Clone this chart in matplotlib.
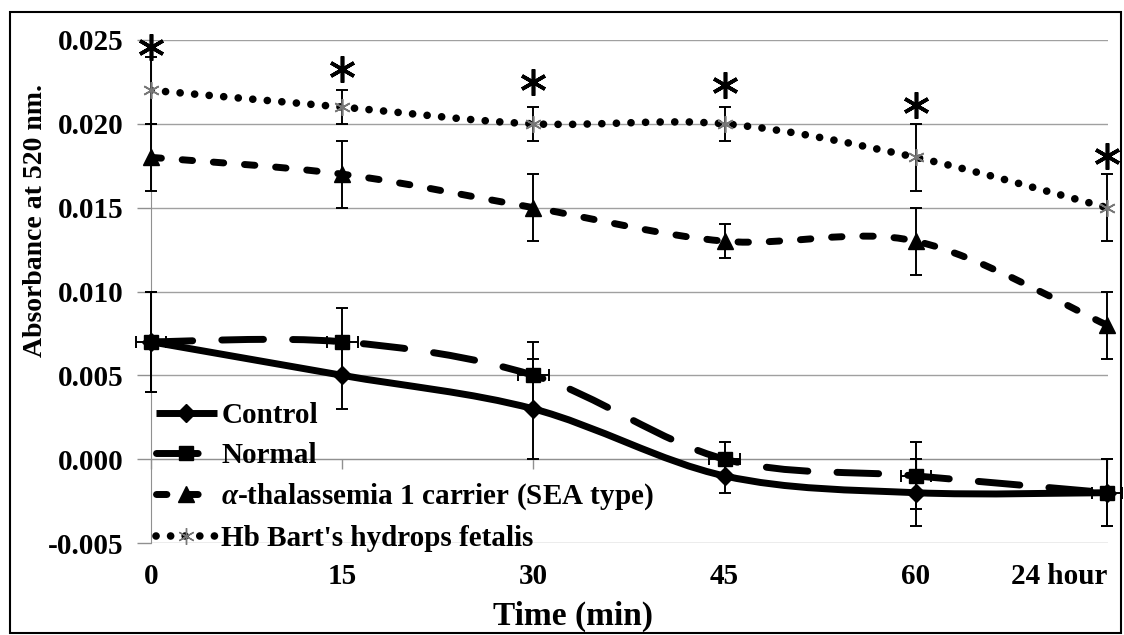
import numpy as np
import matplotlib
matplotlib.use("Agg")
import matplotlib.pyplot as plt
from matplotlib.path import Path
from matplotlib.patches import PathPatch, Rectangle
from matplotlib.lines import Line2D

plt.rcParams['font.family'] = ['Liberation Serif', 'DejaVu Serif']
plt.rcParams['font.weight'] = 'bold'
plt.rcParams['mathtext.fontset'] = 'custom'
plt.rcParams['mathtext.rm'] = 'Liberation Serif'
plt.rcParams['mathtext.it'] = 'Liberation Serif:italic:bold'

# data
times = ['0', '15', '30', '45', '60', '24 hour']
control = [0.007, 0.005, 0.003, -0.001, -0.002, -0.002]
control_err = [0.003, 0.002, 0.003, 0.001, 0.002, 0.002]
normal = [0.007, 0.007, 0.005, 0.000, -0.001, -0.002]
normal_err = [0.003, 0.002, 0.002, 0.001, 0.002, 0.002]
alpha = [0.018, 0.017, 0.015, 0.013, 0.013, 0.008]
alpha_err = [0.002, 0.002, 0.002, 0.001, 0.002, 0.002]
bart = [0.022, 0.021, 0.020, 0.020, 0.018, 0.015]
bart_err = [0.002, 0.001, 0.001, 0.001, 0.002, 0.002]
star_y = [0.0246, 0.0233, 0.0225, 0.0223, 0.0211, 0.0181]
yticks = [-0.005, 0.000, 0.005, 0.010, 0.015, 0.020, 0.025]
ytick_labels = ['-0.005', '0.000', '0.005', '0.010', '0.015', '0.020', '0.025']

x = np.arange(len(times))


def smooth_path(xs, ys):
    # excel-like smoothed line: bezier segments through the points
    pts = np.column_stack([xs, ys]).astype(float)
    n = len(pts)
    verts = [pts[0]]
    codes = [Path.MOVETO]
    for i in range(n - 1):
        p0 = pts[max(i - 1, 0)]
        p1 = pts[i]
        p2 = pts[i + 1]
        p3 = pts[min(i + 2, n - 1)]
        verts += [p1 + (p2 - p0) / 6, p2 - (p3 - p1) / 6, p2]
        codes += [Path.CURVE4] * 3
    return Path(verts, codes)


fig = plt.figure(figsize=(11.24, 6.35), dpi=100)
ax = fig.add_axes([151 / 1124, 1 - 543 / 635, 957 / 1124, 503 / 635])

# axis layout first (moving a spine resets the ticks)
for s in ['top', 'right']:
    ax.spines[s].set_visible(False)
ax.spines['bottom'].set_position(('data', 0))
ax.spines['bottom'].set_color('#909090')
ax.spines['left'].set_color('#909090')

series = [
    ('Control', control, control_err, 'D', 9, '-', 5.0, 'k'),
    ('Normal', normal, normal_err, 's', 9.5, (0, (6, 4.2)), 5.0, 'k'),
    (r'$\alpha$-thalassemia 1 carrier (SEA type)', alpha, alpha_err, '^', 11, (0, (1.5, 3.0)), 5.0, 'k'),
    ("Hb Bart's hydrops fetalis", bart, bart_err, (6, 2, 0), 12, (0, (0.01, 1.9)), 5.5, '#777777'),
]

handles = []
labels = []
for name, vals, err, mk, ms, ls, lw, mc in series:
    ax.add_patch(PathPatch(smooth_path(x, vals), fill=False, ec='k', lw=lw, ls=ls,
                           capstyle='round', joinstyle='round', zorder=3))
    xerr = 0.08 if name == 'Normal' else None
    ax.errorbar(x, vals, yerr=err, xerr=xerr, fmt='none', ecolor='k', elinewidth=1.4,
                capsize=4, capthick=1.4, zorder=4, clip_on=False)
    if mk == (6, 2, 0):
        ax.plot(x, vals, ls='none', marker=mk, ms=ms, mec=mc, mew=1.2, zorder=5, clip_on=False)
    else:
        ax.plot(x, vals, ls='none', marker=mk, ms=ms, color=mc, zorder=5, clip_on=False)
    h = Line2D([], [], color='k', lw=lw, ls=ls, marker=mk, ms=ms, mfc=mc, mec=mc,
               dash_capstyle='round', solid_capstyle='butt')
    handles.append(h)
    labels.append(name)

# significance asterisks
ax.plot(x, star_y, ls='none', marker=(6, 2, 0), ms=19, mec='k', mew=2.6, zorder=6,
        clip_on=False)

ax.set_xlim(0, 5.005)
ax.set_ylim(-0.005, 0.025)
ax.set_yticks(yticks)
ax.set_yticklabels(ytick_labels)
ax.set_xticks(x)
ax.set_xticklabels(times)
ax.get_xticklabels()[-1].set_horizontalalignment('right')

ax.grid(axis='y', color='#a0a0a0', lw=1.0)
ax.set_axisbelow(True)
ax.tick_params(axis='y', direction='out', length=10, width=1, color='#909090', pad=10,
               labelsize=21)
ax.tick_params(axis='x', direction='out', length=7, width=1, color='#909090', pad=68,
               labelsize=21)

ax.legend(handles, labels, loc='lower left', bbox_to_anchor=(0.005, -0.018), frameon=False,
          prop={'size': 21, 'weight': 'bold'}, handlelength=2.1, handletextpad=0.15,
          labelspacing=0.44, borderpad=0, borderaxespad=0, numpoints=1)

fig.text(36 / 1124, 1 - 220 / 635, 'Absorbance at 520 nm.', rotation=90, ha='center',
         va='center', fontsize=20, fontweight='bold')
fig.text(573 / 1124, 1 - 616 / 635, 'Time (min)', ha='center', va='center', fontsize=24,
         fontweight='bold')

fig.add_artist(Rectangle((10 / 1124, 2 / 635), 1111 / 1124, 621 / 635, transform=fig.transFigure,
                         fill=False, ec='k', lw=1.5))

fig.savefig('out.png', dpi=100)
